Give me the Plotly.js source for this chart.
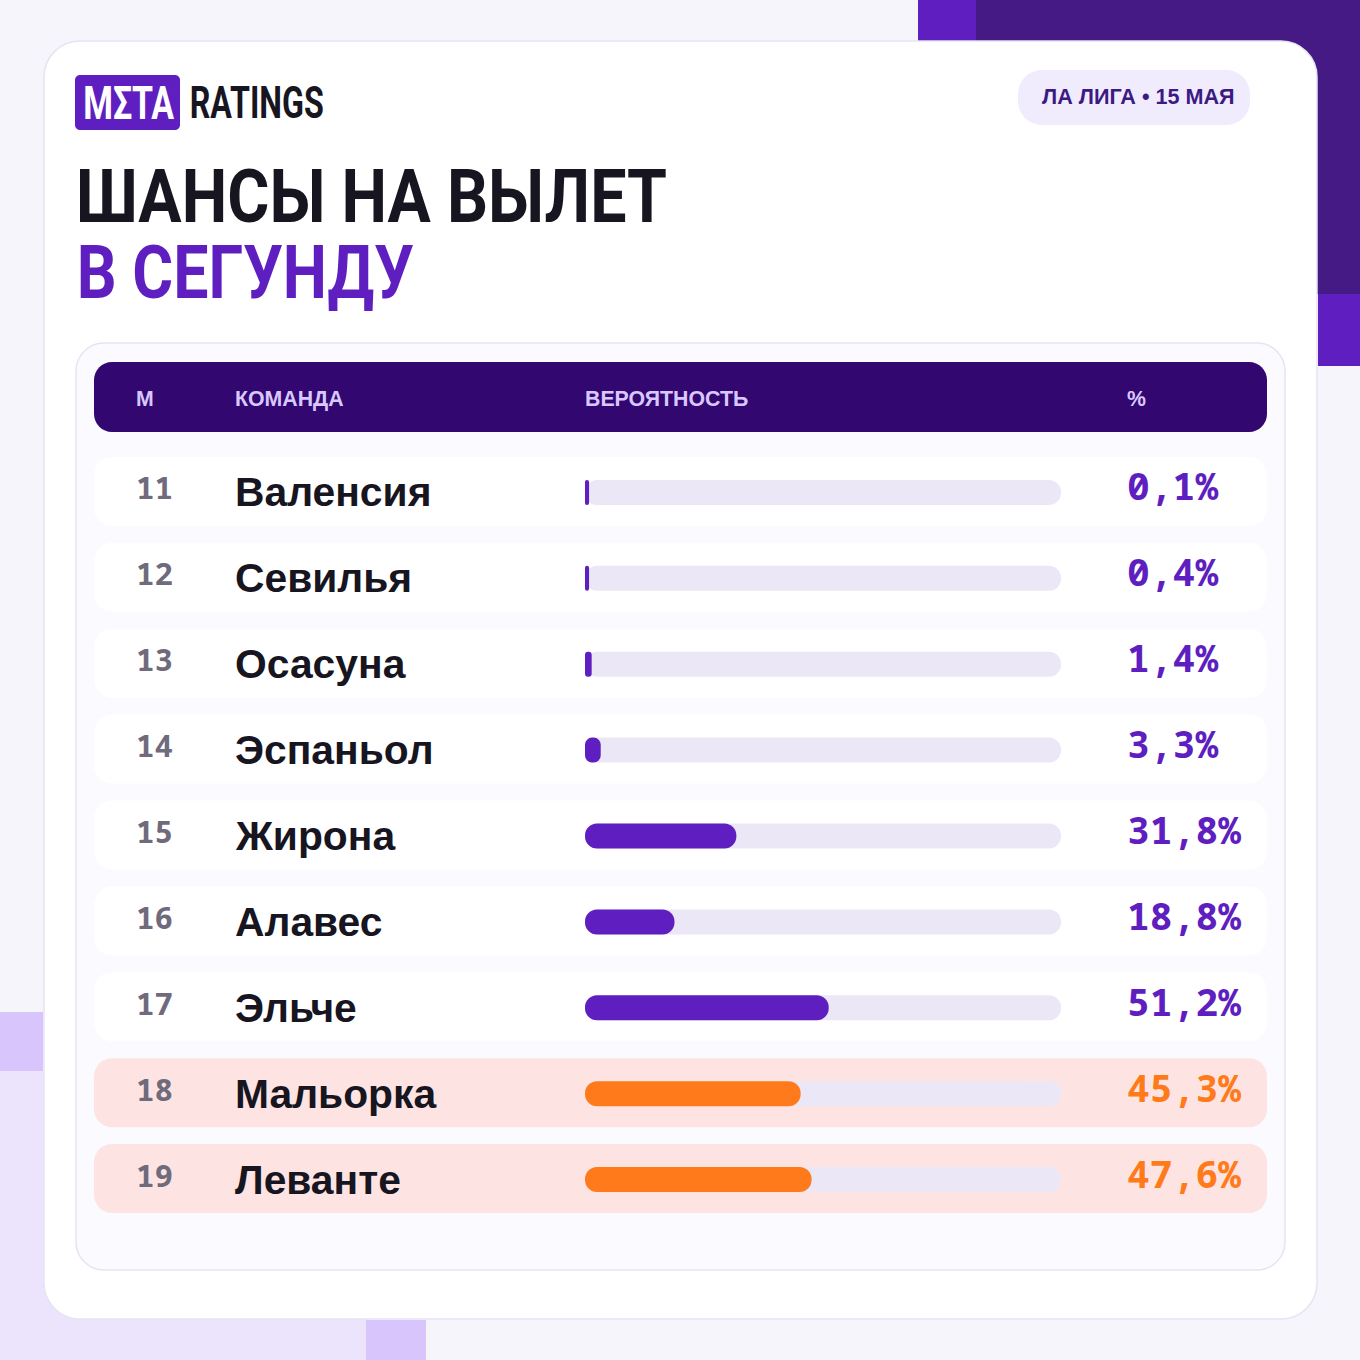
<!DOCTYPE html>
<html>
<head>
<meta charset="utf-8">
<script src="https://cdn.plot.ly/plotly-3.0.1.min.js"></script>
<style>
  html, body { margin: 0; padding: 0; background: #f5f5fb; }
  #chart { width: 1360px; height: 1360px; }
</style>
</head>
<body>
<div id="chart"></div>
<script>
  const ranks = [11, 12, 13, 14, 15, 16, 17, 18, 19];
  const teams = ['Валенсия', 'Севилья', 'Осасуна', 'Эспаньол', 'Жирона', 'Алавес', 'Эльче', 'Мальорка', 'Леванте'];
  const chances = [0.1, 0.4, 1.4, 3.3, 31.8, 18.8, 51.2, 45.3, 47.6];
  const relegated = [18, 19];
  const columns = ['М', 'КОМАНДА', 'ВЕРОЯТНОСТЬ', '%'];
  const badge = 'ЛА ЛИГА • 15 МАЯ';
  const titleLines = ['ШАНСЫ НА ВЫЛЕТ', 'В СЕГУНДУ'];
  const logoWords = ['ΜΣΤΑ', 'RATINGS'];

  const SIZE = 1360;
  const PURPLE = '#5f1fc0', ORANGE = '#ff7a1a', INK = '#17151f', TRACK = '#ebe7f6';
  const PLOT_TOP = 449.5, PLOT_BOTTOM = 1222.5;
  // tiny chances still get a visible sliver, like the original
  const MIN_BAR = 0.85;

  const px = v => v / SIZE;
  const py = v => 1 - v / SIZE;

  function rect(x0, y0, x1, y1, fill) {
    return {type: 'rect', xref: 'paper', yref: 'paper', layer: 'below',
      x0: px(x0), x1: px(x1), y0: py(y0), y1: py(y1), fillcolor: fill, line: {width: 0}};
  }

  function roundRect(x0, y0, x1, y1, r, fill, border) {
    const X = v => px(v).toFixed(5), Y = v => py(v).toFixed(5);
    const k = r * 0.45;
    const path = 'M' + X(x0 + r) + ',' + Y(y0) +
      ' L' + X(x1 - r) + ',' + Y(y0) +
      ' C' + X(x1 - k) + ',' + Y(y0) + ' ' + X(x1) + ',' + Y(y0 + k) + ' ' + X(x1) + ',' + Y(y0 + r) +
      ' L' + X(x1) + ',' + Y(y1 - r) +
      ' C' + X(x1) + ',' + Y(y1 - k) + ' ' + X(x1 - k) + ',' + Y(y1) + ' ' + X(x1 - r) + ',' + Y(y1) +
      ' L' + X(x0 + r) + ',' + Y(y1) +
      ' C' + X(x0 + k) + ',' + Y(y1) + ' ' + X(x0) + ',' + Y(y1 - k) + ' ' + X(x0) + ',' + Y(y1 - r) +
      ' L' + X(x0) + ',' + Y(y0 + r) +
      ' C' + X(x0) + ',' + Y(y0 + k) + ' ' + X(x0 + k) + ',' + Y(y0) + ' ' + X(x0 + r) + ',' + Y(y0) + ' Z';
    return {type: 'path', xref: 'paper', yref: 'paper', layer: 'below', path: path,
      fillcolor: fill, line: border ? {color: border, width: 1.5} : {width: 0}};
  }

  function label(text, x, y, size, color, family, extra) {
    return Object.assign({
      text: text, xref: 'paper', yref: 'paper', x: px(x), y: py(y),
      xanchor: 'left', yanchor: 'middle', showarrow: false,
      font: {family: family, size: size, color: color, weight: 700}
    }, extra || {});
  }

  const isRelegated = i => relegated.includes(ranks[i]);
  const rowPitch = (PLOT_BOTTOM - PLOT_TOP) / teams.length;

  let shapes = [
    rect(976, 0, SIZE, 294, '#451a85'),
    rect(918, 0, 976, 41, PURPLE),
    rect(1318, 294, SIZE, 366, PURPLE),
    rect(0, 1071, 366, SIZE, '#ece4fc'),
    rect(0, 1012, 43, 1071, '#d7c5fb'),
    rect(366, 1320, 426, SIZE, '#d7c5fb'),
    roundRect(44, 41, 1317, 1319, 36, '#ffffff', '#e6e3f3'),
    roundRect(75, 75, 180, 130, 5, PURPLE),
    roundRect(1018, 70, 1250, 125, 24, '#f1ecfd'),
    roundRect(76, 343, 1285, 1270, 28, '#fbfaff', '#e6e4f2'),
    roundRect(94, 362, 1267, 432, 18, '#32076f')
  ];

  teams.forEach((t, i) => {
    const mid = PLOT_TOP + rowPitch * (i + 0.5) - 1;
    shapes.push(roundRect(94, mid - 34.5, 1267, mid + 34.5, 18, isRelegated(i) ? '#fde4e2' : '#ffffff'));
  });

  const HEAD = '"Liberation Sans", Arial, sans-serif';
  const DISPLAY = 'Roboto, sans-serif';
  const MONO = '"Noto Sans Mono", monospace';

  const centered = {xanchor: 'center'};
  let annotations = [
    label(logoWords[0], 128, 103, 46, '#ffffff', DISPLAY, centered),
    label(logoWords[1], 256.5, 103, 45, INK, DISPLAY, centered),
    label(titleLines[1], 245, 273, 74, PURPLE, DISPLAY, centered),
    label(badge, 1040, 97, 21.6, '#3b1a82', HEAD),
    label(columns[0], 134, 399, 21.3, '#d9c8ff', HEAD),
    label(columns[1], 233, 399, 21.3, '#d9c8ff', HEAD),
    label(columns[2], 583, 399, 21.3, '#d9c8ff', HEAD),
    label(columns[3], 1125, 399, 21.3, '#d9c8ff', HEAD)
  ];

  teams.forEach((t, i) => {
    const rowText = {yref: 'y', y: t};
    annotations.push(label(String(ranks[i]), 134, 0, 31, '#6f6b7d', MONO, Object.assign({yshift: 5}, rowText)));
    annotations.push(label(t, 233, 0, 40.8, INK, HEAD, rowText));
    annotations.push(label(chances[i].toFixed(1).replace('.', ',') + '%', 1125, 0, 38,
      isRelegated(i) ? ORANGE : PURPLE, MONO, Object.assign({yshift: 7}, rowText)));
  });

  // an explicit base makes plotly round both ends of a bar, not only the tip
  const track = {
    type: 'bar', orientation: 'h', y: teams, x: teams.map(() => 100), base: teams.map(() => 0),
    width: 0.291, marker: {color: TRACK}, hoverinfo: 'skip'
  };

  // separate subplot, overlay mode only rounds the longest bar of each row
  const fill = {
    type: 'bar', orientation: 'h', xaxis: 'x2', yaxis: 'y2', y: teams,
    x: chances.map(v => Math.max(v, MIN_BAR)), base: teams.map(() => 0),
    width: 0.291, marker: {color: teams.map((t, i) => isRelegated(i) ? ORANGE : PURPLE)},
    customdata: chances, hovertemplate: '%{y}: %{customdata}%<extra></extra>'
  };

  const valueAxis = {domain: [px(585), px(1061)], range: [0, 100], visible: false, fixedrange: true};
  const teamAxis = {
    domain: [py(PLOT_BOTTOM), py(PLOT_TOP)], type: 'category', categoryorder: 'array', categoryarray: teams,
    range: [teams.length - 0.5, -0.5], visible: false, fixedrange: true
  };

  const layout = {
    width: SIZE, height: SIZE,
    margin: {l: 0, r: 0, t: 0, b: 0},
    paper_bgcolor: '#f5f5fb', plot_bgcolor: 'rgba(0,0,0,0)',
    showlegend: false, barcornerradius: 12,
    title: {
      text: titleLines[0], x: px(76), xanchor: 'left', xref: 'paper',
      y: py(196), yanchor: 'middle', yref: 'paper',
      font: {family: DISPLAY, size: 74, color: INK, weight: 700}
    },
    xaxis: valueAxis,
    yaxis: teamAxis,
    xaxis2: Object.assign({}, valueAxis, {anchor: 'y2'}),
    yaxis2: Object.assign({}, teamAxis, {anchor: 'x2'}),
    shapes: shapes,
    annotations: annotations
  };

  // the original lettering is condensed and no condensed face is installed
  const textWidths = {};
  textWidths[titleLines[0]] = 591;
  textWidths[titleLines[1]] = 337;
  textWidths[logoWords[0]] = 91;
  textWidths[logoWords[1]] = 134;

  Plotly.newPlot('chart', [track, fill], layout, {displayModeBar: false}).then(gd => {
    gd.querySelectorAll('text').forEach(el => {
      const w = textWidths[el.textContent];
      if (!w) return;
      el.setAttribute('textLength', w);
      el.setAttribute('lengthAdjust', 'spacingAndGlyphs');
    });
  });
</script>
</body>
</html>
